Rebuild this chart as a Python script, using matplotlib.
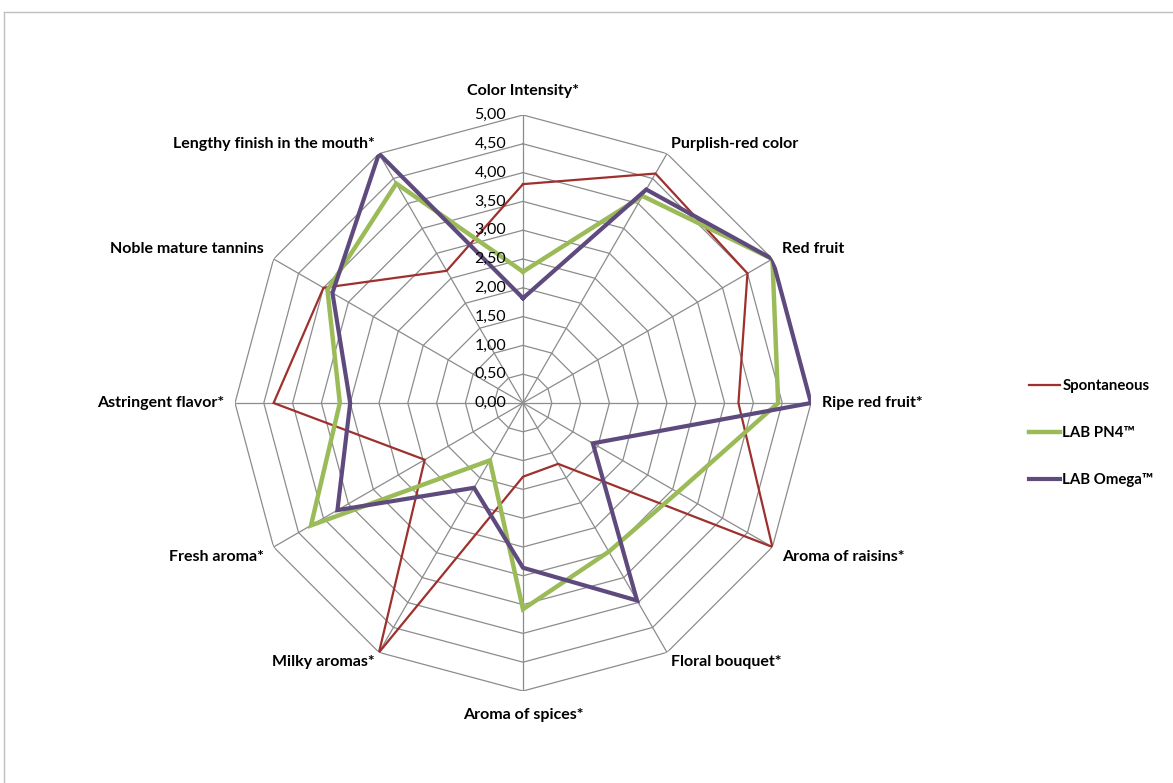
import numpy as np
import matplotlib.pyplot as plt
from matplotlib.lines import Line2D

plt.rcParams['font.family'] = ['Lato', 'DejaVu Sans']

categories = ['Color Intensity*', 'Purplish-red color', 'Red fruit', 'Ripe red fruit*',
              'Aroma of raisins*', 'Floral bouquet*', 'Aroma of spices*', 'Milky aromas*',
              'Fresh aroma*', 'Astringent flavor*', 'Noble mature tannins',
              'Lengthy finish in the mouth*']

spontaneous = [3.80, 4.60, 4.50, 3.74, 5.00, 1.22, 1.28, 5.00, 1.97, 4.33, 4.00, 2.65]
lab_pn4 = [2.28, 4.15, 5.00, 4.43, 3.10, 2.98, 3.58, 1.15, 4.25, 3.18, 3.92, 4.40]
lab_omega = [1.82, 4.28, 5.00, 5.00, 1.40, 3.96, 2.86, 1.70, 3.72, 3.00, 3.82, 5.00]

series_names = ['Spontaneous', 'LAB PN4\u2122', 'LAB Omega\u2122']
series_colors = ['#9E302D', '#9BBB59', '#5F4A7E']
series_widths = [1.6, 3.2, 3.0]

ticks = np.arange(0, 5.01, 0.5)
tick_labels = [f"{t:.2f}".replace('.', ',') for t in ticks]

W, H = 1173, 783
fig = plt.figure(figsize=(W / 100, H / 100), dpi=100)

# chart frame (top and left edges visible)
fig.add_artist(Line2D([4 / W, 4 / W], [0, 1 - 12 / H], color='#BFBFBF', lw=1))
fig.add_artist(Line2D([4 / W, 1], [1 - 12 / H, 1 - 12 / H], color='#BFBFBF', lw=1))

cx, cy, R = 523, 403, 288
ax = fig.add_axes([(cx - R) / W, (H - cy - R) / H, 2 * R / W, 2 * R / H], projection='polar')
ax.set_theta_zero_location('N')
ax.set_theta_direction(-1)
ax.set_ylim(0, 5)
ax.grid(False)
ax.spines['polar'].set_visible(False)
ax.set_xticks([])
ax.set_yticks([])
ax.patch.set_visible(False)

n = len(categories)
angles = np.arange(n) * 2 * np.pi / n
closed = np.append(angles, angles[0])

# polygon grid
for t in ticks[1:]:
    ax.plot(closed, [t] * (n + 1), color='#8C8C8C', lw=0.9, zorder=1)
for a in angles:
    ax.plot([a, a], [0, 5], color='#8C8C8C', lw=0.9, zorder=1)

# tick labels along the vertical axis
for t, lab in zip(ticks, tick_labels):
    ax.annotate(lab, xy=(0, t), xytext=(-12, 0), textcoords='offset points',
                ha='right', va='center', fontsize=11.5, color='#000000', zorder=5)

for vals, name, col, lw in zip([spontaneous, lab_pn4, lab_omega], series_names,
                               series_colors, series_widths):
    ax.plot(closed, vals + vals[:1], color=col, lw=lw, label=name, zorder=3,
            solid_joinstyle='miter')

# category labels
for a, cat in zip(angles, categories):
    s = np.sin(a)
    c = np.cos(a)
    if abs(s) < 0.01:
        ha = 'center'
        off = (0, 17 * np.sign(c))
    elif abs(c) < 0.01:
        ha = 'left' if s > 0 else 'right'
        off = (8 * np.sign(s), 0)
    else:
        ha = 'left' if s > 0 else 'right'
        off = ((3 if abs(c) > 0.7 else 7) * np.sign(s), 7 * np.sign(c))
    ax.annotate(cat, xy=(a, 5), xytext=off, textcoords='offset points', ha=ha, va='center',
                fontsize=11.5, fontweight='bold', color='#000000')

leg = fig.legend(loc='center left', bbox_to_anchor=(1015 / W, 1 - 433 / H), frameon=False,
                 labelspacing=2.2, handlelength=2.1, handletextpad=0.15,
                 prop={'weight': 'bold', 'size': 10.8})

fig.savefig('out.png', dpi=100, facecolor='white')
